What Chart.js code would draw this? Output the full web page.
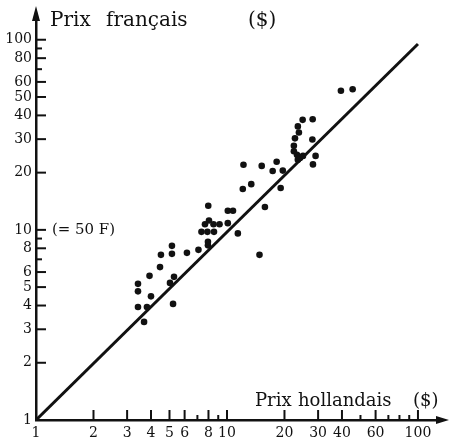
<!DOCTYPE html>
<html>
<head>
<meta charset="utf-8">
<script src="https://cdn.jsdelivr.net/npm/chart.js@4/dist/chart.umd.min.js"></script>
<style>
  body { margin: 0; background: #fff; }
  canvas { display: block; }
</style>
</head>
<body>
<canvas id="chart" width="451" height="443"></canvas>
<script>
// prix hollandais (x) / prix français (y), en dollars
var prixHollandais = [3.68, 3.42, 3.81, 5.22, 4.00, 3.42, 3.42, 5.03, 3.93, 5.28,
    4.46, 4.51, 5.15, 5.15, 6.17, 7.09, 7.95, 7.95, 7.35, 7.90,
    8.55, 11.4, 7.67, 8.50, 9.14, 8.05, 10.1, 7.98, 10.1, 10.75,
    12.1, 13.4, 15.8, 14.8, 12.2, 15.2, 18.2, 17.35, 19.6, 19.1,
    24.9, 28.1, 23.5, 23.8, 22.7, 28.0, 22.4, 22.4, 23.25, 24.1,
    25.0, 23.5, 29.1, 28.2, 39.5, 45.5];
var prixFrancais = [3.28, 3.93, 3.93, 4.08, 4.47, 4.75, 5.20, 5.26, 5.73, 5.66,
    6.37, 7.39, 7.48, 8.24, 7.57, 7.85, 8.65, 8.29, 9.76, 9.76,
    9.76, 9.58, 10.7, 10.7, 10.7, 11.2, 10.85, 13.4, 12.6, 12.6,
    16.4, 17.4, 13.2, 7.39, 22.0, 21.7, 22.8, 20.4, 20.5, 16.6,
    37.9, 38.2, 35.0, 32.5, 30.3, 29.9, 27.7, 25.9, 24.8, 23.9,
    24.5, 23.4, 24.5, 22.1, 53.9, 54.9];

// droite d'égalité des prix
var droiteX = [1, 100];
var droiteY = [1, 95];

var xTicks = [1, 2, 3, 4, 5, 6, 7, 8, 9, 10, 20, 30, 40, 50, 60, 70, 80, 90, 100];
var xLabels = [1, 2, 3, 4, 5, 6, 8, 10, 20, 30, 40, 60, 100];
var yTicks = [1, 2, 3, 4, 5, 6, 7, 8, 9, 10, 20, 30, 40, 50, 60, 70, 80, 90, 100];
var yLabels = [1, 2, 3, 4, 5, 6, 8, 10, 20, 30, 40, 50, 60, 80, 100];

var ink = '#111';
var serif = '"DejaVu Serif", serif';

var points = prixHollandais.map(function(x, i) { return {x: x, y: prixFrancais[i]}; });
var droite = droiteX.map(function(x, i) { return {x: x, y: droiteY[i]}; });

// petits traits vers l'intérieur + flèches + textes
var decor = {
    id: 'decor',
    afterDraw: function(chart) {
        var ctx = chart.ctx, a = chart.chartArea;
        var sx = chart.scales.x, sy = chart.scales.y;
        ctx.save();
        ctx.strokeStyle = ink;
        ctx.fillStyle = ink;
        ctx.lineWidth = 2;
        xTicks.forEach(function(v) {
            if (v == 1) return;
            var p = sx.getPixelForValue(v);
            var len = xLabels.indexOf(v) >= 0 ? 10 : 5;
            ctx.beginPath(); ctx.moveTo(p, a.bottom); ctx.lineTo(p, a.bottom - len); ctx.stroke();
        });
        yTicks.forEach(function(v) {
            if (v == 1) return;
            var p = sy.getPixelForValue(v);
            var len = yLabels.indexOf(v) >= 0 ? 10 : 6;
            ctx.beginPath(); ctx.moveTo(a.left, p); ctx.lineTo(a.left + len, p); ctx.stroke();
        });
        // flèches
        ctx.beginPath();
        ctx.moveTo(a.left, 6); ctx.lineTo(a.left - 4, a.top + 1); ctx.lineTo(a.left + 4, a.top + 1);
        ctx.closePath(); ctx.fill();
        ctx.beginPath();
        ctx.moveTo(449, a.bottom); ctx.lineTo(a.right - 1, a.bottom - 4); ctx.lineTo(a.right - 1, a.bottom + 4);
        ctx.closePath(); ctx.fill();

        ctx.font = '20px ' + serif;
        ctx.textBaseline = 'alphabetic';
        ctx.fillText('Prix', 50, 26, 41);
        ctx.fillText('français', 106, 26, 104);
        ctx.fillText('($)', 248, 26, 34);
        ctx.font = '18px ' + serif;
        ctx.fillText('Prix', 255, 406, 37);
        ctx.fillText('hollandais', 298, 406, 98);
        ctx.fillText('($)', 413, 406, 32);
        ctx.font = '15px ' + serif;
        ctx.fillText('(= 50 F)', 52, 234, 63);
        ctx.restore();
    }
};

new Chart(document.getElementById('chart'), {
    type: 'scatter',
    data: {
        datasets: [{
            data: points,
            backgroundColor: ink,
            borderWidth: 0,
            pointRadius: 3.3
        }, {
            type: 'line',
            data: droite,
            borderColor: ink,
            borderWidth: 3,
            pointRadius: 0,
            fill: false
        }]
    },
    options: {
        responsive: false,
        animation: false,
        layout: { padding: { top: 20, right: 14, bottom: 0, left: 0 } },
        plugins: { legend: { display: false }, tooltip: { enabled: false } },
        scales: {
            x: {
                type: 'logarithmic',
                min: 1,
                max: 125.8,
                grid: { display: false, drawTicks: false },
                border: { display: true, color: ink, width: 2.5 },
                afterBuildTicks: function(scale) { scale.ticks = xTicks.map(function(v) { return {value: v}; }); },
                afterFit: function(scale) { scale.height = 23; },
                ticks: {
                    autoSkip: false, maxRotation: 0, padding: 5, color: ink,
                    font: { family: serif, size: 14 },
                    callback: function(v) { return xLabels.indexOf(v) >= 0 ? String(v) : ''; }
                }
            },
            y: {
                type: 'logarithmic',
                min: 1,
                max: 127,
                grid: { display: false, drawTicks: false },
                border: { display: true, color: ink, width: 2.5 },
                afterBuildTicks: function(scale) { scale.ticks = yTicks.map(function(v) { return {value: v}; }); },
                afterFit: function(scale) { scale.width = 36; },
                ticks: {
                    autoSkip: false, padding: 4, color: ink,
                    font: { family: serif, size: 14 },
                    callback: function(v) { return yLabels.indexOf(v) >= 0 ? String(v) : ''; }
                }
            }
        }
    },
    plugins: [decor]
});
</script>
</body>
</html>
